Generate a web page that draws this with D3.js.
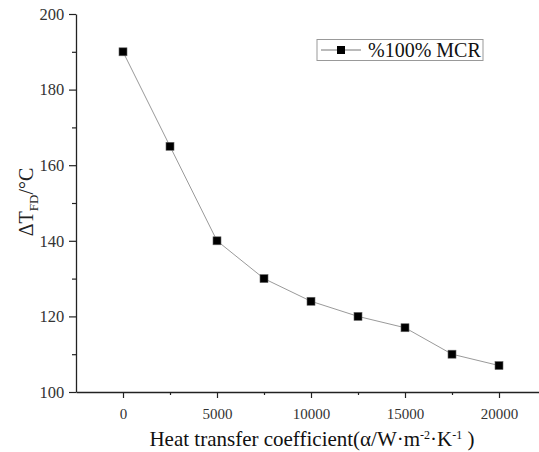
<!DOCTYPE html>
<html>
<head>
<meta charset="utf-8">
<script src="https://cdn.jsdelivr.net/npm/d3@7"></script>
<style>
  body { margin: 0; background: #fff; }
</style>
</head>
<body>
<div id="chart"></div>
<script>
// data
var coeffs = [0, 2500, 5000, 7500, 10000, 12500, 15000, 17500, 20000];
var deltaT = [190, 165, 140, 130, 124, 120, 117, 110, 107];
var xTicks = [0, 5000, 10000, 15000, 20000];
var yTicks = [100, 120, 140, 160, 180, 200];
var seriesName = "%100% MCR";

var FONT = "Liberation Serif";
var svgW = 539, svgH = 452;
var margin = {top: 14, left: 76, bottom: 60};

var svg = d3.select("#chart").append("svg").attr("width", svgW).attr("height", svgH)
    .attr("font-family", FONT);

var xScale = d3.scaleLinear().domain([-2500, 22500]).range([margin.left, margin.left + 470]);
var yScale = d3.scaleLinear().domain([100, 200]).range([svgH - margin.bottom, margin.top]);

var yBase = yScale(100);

// axes
var xAxis = svg.append("g").attr("transform", "translate(0," + yBase + ")")
    .call(d3.axisBottom(xScale).tickValues(xTicks).tickSize(6).tickSizeOuter(0).tickFormat(d3.format("d")));
var xMinor = svg.append("g").attr("transform", "translate(0," + yBase + ")")
    .call(d3.axisBottom(xScale).tickValues([2500, 7500, 12500, 17500]).tickSize(3).tickSizeOuter(0).tickFormat(""));
var yAxis = svg.append("g").attr("transform", "translate(" + margin.left + ",0)")
    .call(d3.axisLeft(yScale).tickValues(yTicks).tickSize(7).tickSizeOuter(0));
var yMinor = svg.append("g").attr("transform", "translate(" + margin.left + ",0)")
    .call(d3.axisLeft(yScale).tickValues([110, 130, 150, 170, 190]).tickSize(4).tickSizeOuter(0).tickFormat(""));

[xAxis, xMinor, yAxis, yMinor].forEach(function(a) {
    a.attr("font-family", FONT);
    a.select(".domain").attr("stroke", "#222").attr("stroke-width", 1.3);
    a.selectAll(".tick line").attr("stroke", "#222").attr("stroke-width", 1.2);
});
xMinor.select(".domain").remove();
yMinor.select(".domain").remove();
xAxis.selectAll("text").attr("font-size", 15).attr("dy", "1.2em").attr("fill", "#333").attr("font-family", FONT);
yAxis.selectAll("text").attr("font-size", 16.5).attr("dx", "-0.1em").attr("fill", "#333").attr("font-family", FONT);

// line and markers
var pts = coeffs.map(function(c, i) { return [c, deltaT[i]]; });
var line = d3.line().x(function(d) { return xScale(d[0]); }).y(function(d) { return yScale(d[1]); });
svg.append("path").datum(pts).attr("d", line).attr("fill", "none").attr("stroke", "#9a9a9a").attr("stroke-width", 1);

var ms = 8;
svg.append("g").selectAll("rect").data(pts).enter().append("rect")
    .attr("x", function(d) { return xScale(d[0]) - ms / 2; })
    .attr("y", function(d) { return yScale(d[1]) - ms / 2; })
    .attr("width", ms).attr("height", ms)
    .attr("fill", "#000").attr("stroke", "#666").attr("stroke-width", 0.6);

// legend
var lg = svg.append("g").attr("transform", "translate(317,39.5)");
lg.append("rect").attr("width", 166).attr("height", 21).attr("fill", "#fff").attr("stroke", "#999").attr("stroke-width", 1);
lg.append("line").attr("x1", 4).attr("x2", 44).attr("y1", 10.5).attr("y2", 10.5).attr("stroke", "#777").attr("stroke-width", 1);
lg.append("rect").attr("x", 20).attr("y", 6.5).attr("width", 8).attr("height", 8).attr("fill", "#000");
lg.append("text").attr("x", 51).attr("y", 17).attr("font-size", 20).attr("font-family", FONT).attr("fill", "#111").text(seriesName);

// x label
var xl = svg.append("text").attr("x", 312).attr("y", 446).attr("text-anchor", "middle").attr("font-size", 21)
    .attr("font-family", FONT).attr("fill", "#111");
xl.append("tspan").text("Heat transfer coefficient(\u03b1/W\u00b7m");
xl.append("tspan").attr("dy", -7).attr("font-size", 12).text("-2");
xl.append("tspan").attr("dy", 7).text("\u00b7K");
xl.append("tspan").attr("dy", -7).attr("font-size", 12).text("-1");
xl.append("tspan").attr("dy", 7).text(" )");

// y label
var yl = svg.append("text").attr("transform", "translate(33,202) rotate(-90)").attr("text-anchor", "middle")
    .attr("font-size", 20).attr("font-family", FONT).attr("fill", "#222");
yl.append("tspan").text("\u0394T");
yl.append("tspan").attr("dy", 5).attr("font-size", 13).text("FD");
yl.append("tspan").attr("dy", -5).text("/\u00b0C");
</script>
</body>
</html>
